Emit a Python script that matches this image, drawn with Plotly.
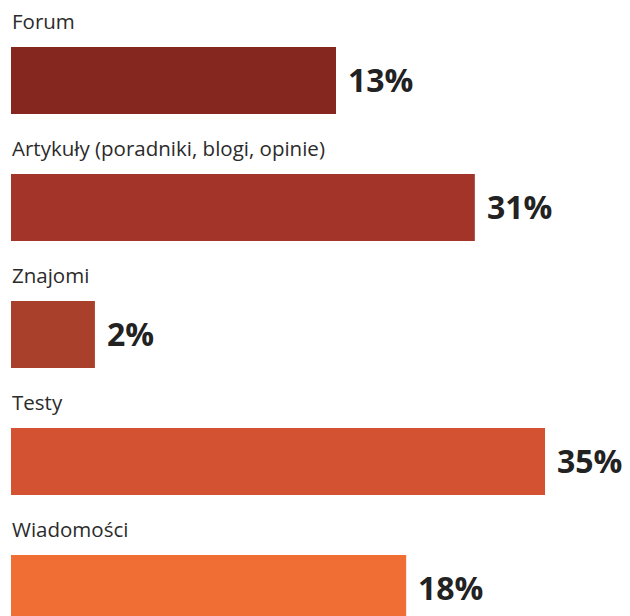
import plotly.graph_objects as go

categories = ["Forum", "Artykuły (poradniki, blogi, opinie)", "Znajomi", "Testy", "Wiadomości"]
percent_values = [13, 31, 2, 35, 18]
percent_labels = ["13%", "31%", "2%", "35%", "18%"]
# bar lengths as drawn in the picture (scaled so the longest bar = 35)
bar_lengths = [21.3, 30.4, 5.5, 35.0, 25.9]
bar_colors = ["#85261F", "#A2342A", "#A9402B", "#D35232", "#F06E33"]

fig = go.Figure()
fig.add_trace(go.Bar(
    x=bar_lengths,
    y=categories,
    orientation="h",
    marker=dict(color=bar_colors, line=dict(width=0)),
    width=0.528,
    hoverinfo="skip",
))

annotations = []
for cat, length, lab in zip(categories, bar_lengths, percent_labels):
    annotations.append(dict(
        x=0, y=cat, xref="x", yref="y", text=cat, showarrow=False,
        xanchor="left", yanchor="middle", xshift=-1, yshift=60,
        font=dict(family="Open Sans", size=20.5, color="#2b2b2b"),
    ))
    annotations.append(dict(
        x=length, y=cat, xref="x", yref="y", text="<b>" + lab + "</b>", showarrow=False,
        xanchor="left", yanchor="middle", xshift=10, yshift=1,
        font=dict(family="Open Sans", size=32, color="#222222"),
    ))

fig.update_layout(
    width=622, height=608,
    margin=dict(l=0, r=0, t=0, b=0),
    paper_bgcolor="white", plot_bgcolor="white",
    showlegend=False,
    annotations=annotations,
    xaxis=dict(range=[-0.197, 40.57], visible=False, fixedrange=True),
    yaxis=dict(range=[4.216, -0.571], visible=False, fixedrange=True,
               categoryorder="array", categoryarray=categories),
)

fig.write_html("out.html")
